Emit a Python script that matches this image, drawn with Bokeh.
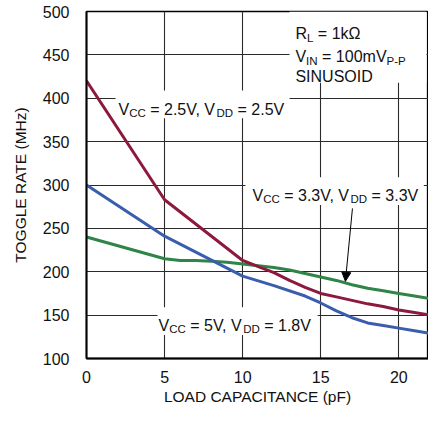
from bokeh.plotting import figure
from bokeh.models import Label, BoxAnnotation, Arrow, NormalHead, Range1d, FixedTicker
from bokeh.embed import file_html
from bokeh.resources import INLINE

# ---- data ----
cap_red = [0, 5, 10, 11, 12, 13, 14, 15, 16, 17, 18, 19, 20, 21, 22]
rate_red = [420, 283, 213, 206, 199, 190, 182, 175, 171, 167, 163, 160, 156, 153, 150]

cap_blue = [0, 5, 10, 12, 14, 15, 16, 17, 18, 19, 20, 21, 22]
rate_blue = [300, 241, 195, 184, 172, 164, 155, 147, 141, 138, 135, 132, 129]

cap_green = [0, 5, 6, 7, 8, 9, 10, 11, 12, 13, 14, 15, 16, 17, 18, 19, 20, 21, 22]
rate_green = [240, 215, 213, 213, 212, 211, 209, 207, 205, 202, 198, 194, 190, 185, 181, 178, 175, 172, 169]

x_ticks = [0, 5, 10, 15, 20]
y_ticks = [100, 150, 200, 250, 300, 350, 400, 450, 500]

FONT = "Liberation Sans"
MAIN = 16
SUB = 11.5
TXT = "#111111"

p = figure(width=428, height=407, output_backend="svg", toolbar_location=None,
           x_range=Range1d(0, 21.9), y_range=Range1d(100, 500),
           min_border_left=86, min_border_right=0, min_border_top=11, min_border_bottom=47)
p.background_fill_color = "white"
p.border_fill_color = "white"
p.outline_line_color = "black"
p.outline_line_width = 1.3

for ax in (p.xaxis[0], p.yaxis[0]):
    ax.axis_line_color = "black"
    ax.axis_line_width = 2
    ax.major_tick_line_color = None
    ax.minor_tick_line_color = None
    ax.major_label_text_font = FONT
    ax.major_label_text_font_size = f"{MAIN}px"
    ax.major_label_text_color = TXT
    ax.axis_label_text_font = FONT
    ax.axis_label_text_font_size = "15.5px"
    ax.axis_label_text_font_style = "normal"
    ax.axis_label_text_color = TXT

p.xaxis.ticker = FixedTicker(ticks=x_ticks)
p.yaxis.ticker = FixedTicker(ticks=y_ticks)
p.xaxis.axis_label = "LOAD CAPACITANCE (pF)"
p.yaxis.axis_label = "TOGGLE RATE (MHz)"
p.xaxis.major_label_standoff = 6
p.xaxis.axis_label_standoff = 2
p.yaxis.major_label_standoff = 11
p.yaxis.axis_label_standoff = 11

for g in (p.xgrid[0], p.ygrid[0]):
    g.grid_line_color = "#2a2a2a"
    g.grid_line_width = 1.1
p.xgrid.ticker = FixedTicker(ticks=x_ticks)
p.ygrid.ticker = FixedTicker(ticks=y_ticks)

# white boxes behind the annotations (break grid lines)
for l, r, t, b in [(1.86, 13.0, 409, 377), (10.18, 21.6, 309, 277), (4.55, 14.8, 159, 127), (13.0, 21.77, 500, 418)]:
    p.add_layout(BoxAnnotation(left=l, right=r, top=t, bottom=b, fill_color="white", fill_alpha=1.0,
                               line_color=None, level="underlay"))

p.line(cap_green, rate_green, line_color="#2f8447", line_width=3)
p.line(cap_blue, rate_blue, line_color="#3b5dad", line_width=3)
p.line(cap_red, rate_red, line_color="#8c1a3c", line_width=3)

W = {' ': 278, '=': 584, '.': 278, ',': 278, 'V': 667, 'C': 722, 'D': 722, 'R': 722, 'L': 556,
     'I': 278, 'N': 722, 'P': 667, '-': 333, 'k': 500, 'm': 833, 'Ω': 768, 'S': 667, 'U': 722, 'O': 778}


def tw(s, size):
    return sum(W.get(c, 556) for c in s) / 1000 * size


def rich(x, y, y_off, parts):
    off = 0.0
    for txt, sub in parts:
        size = SUB if sub else MAIN
        lead = len(txt) - len(txt.lstrip())
        trail = len(txt) - len(txt.rstrip())
        t = txt.strip()
        off += lead * tw(" ", size)
        p.add_layout(Label(x=x, y=y, x_offset=off, y_offset=y_off - (4 if sub else 0), text=t,
                           text_font=FONT, text_font_size=f"{size}px", text_baseline="alphabetic",
                           text_color=TXT))
        off += tw(t, size) + trail * tw(" ", size)


rich(2.05, 400, -11, [("V", False), ("CC", True), (" = 2.5V, V", False), ("DD", True), (" = 2.5V", False)])
rich(10.63, 300, -10, [("V", False), ("CC", True), (" = 3.3V, V", False), ("DD", True), (" = 3.3V", False)])
rich(4.61, 150, -10, [("V", False), ("CC", True), (" = 5V, V", False), ("DD", True), (" = 1.8V", False)])
rich(13.38, 474.5, 0, [("R", False), ("L", True), (" = 1kΩ", False)])
rich(13.38, 447.8, 0, [("V", False), ("IN", True), (" = 100mV", False), ("P-P", True)])
rich(13.38, 424.6, 0, [("SINUSOID", False)])

p.add_layout(Arrow(end=NormalHead(size=9, fill_color="black", line_color="black", line_width=1),
                   x_start=17.03, y_start=273, x_end=16.58, y_end=189,
                   line_color="black", line_width=1))

open("out.html", "w").write(file_html(p, INLINE))
